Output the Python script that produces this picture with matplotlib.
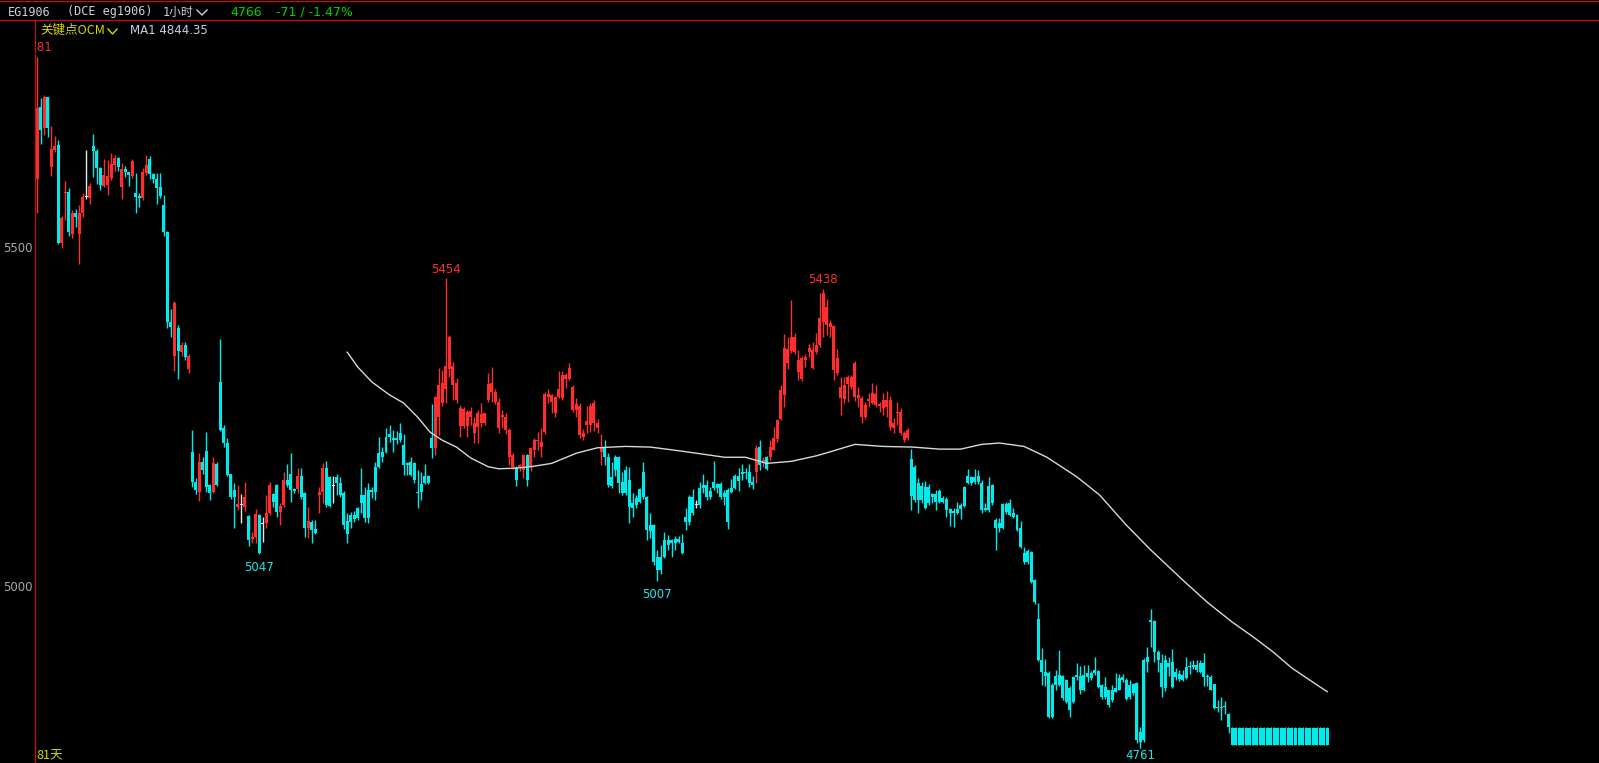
import numpy as np
import matplotlib
matplotlib.use("Agg")
import matplotlib.pyplot as plt
from matplotlib.lines import Line2D

# EG1906 1小时 K线, 数值从截图上读出
opens = [
    5600, 5707, 5675, 5721, 5618, 5643, 5650, 5506, 5580, 5582,
    5520, 5550, 5520, 5550, 5574, 5572, 5649, 5642, 5617, 5590,
    5591, 5602, 5621, 5631, 5588, 5615, 5611, 5605, 5580, 5575,
    5573, 5609, 5630, 5608, 5600, 5588, 5562, 5522, 5390, 5340,
    5380, 5345, 5355, 5320, 5198, 5153, 5139, 5183, 5199, 5149,
    5139, 5180, 5301, 5233, 5211, 5165, 5141, 5117, 5119, 5117,
    5103, 5070, 5072, 5105, 5092, 5093, 5108, 5136, 5149, 5109,
    5119, 5157, 5165, 5143, 5143, 5162, 5137, 5085, 5094, 5084,
    5134, 5139, 5174, 5161, 5148, 5161, 5152, 5137, 5096, 5105,
    5105, 5115, 5134, 5134, 5141, 5141, 5176, 5196, 5198, 5220,
    5224, 5218, 5218, 5226, 5208, 5181, 5183, 5181, 5139, 5150,
    5162, 5162, 5219, 5204, 5250, 5270, 5290, 5320, 5297, 5274,
    5236, 5236, 5236, 5250, 5226, 5234, 5240, 5240, 5274, 5286,
    5271, 5233, 5249, 5230, 5190, 5175, 5174, 5175, 5171, 5193,
    5175, 5200, 5214, 5205, 5227, 5279, 5271, 5255, 5279, 5277,
    5305, 5305, 5260, 5260, 5223, 5220, 5237, 5237, 5240, 5233,
    5198, 5205, 5190, 5161, 5190, 5190, 5153, 5171, 5156, 5122,
    5130, 5143, 5168, 5131, 5090, 5090, 5043, 5043, 5068, 5068,
    5068, 5069, 5070, 5063, 5102, 5131, 5131, 5119, 5144, 5149,
    5149, 5140, 5153, 5150, 5150, 5137, 5142, 5144, 5162, 5162,
    5168, 5168, 5168, 5153, 5168, 5205, 5181, 5190, 5190, 5201,
    5217, 5246, 5282, 5329, 5347, 5345, 5316, 5305, 5333, 5345,
    5322, 5345, 5355, 5389, 5385, 5382, 5318, 5315, 5277, 5276,
    5298, 5294, 5279, 5277, 5249, 5249, 5273, 5270, 5267, 5265,
    5263, 5264, 5235, 5233, 5255, 5226, 5215, 5218, 5187, 5176,
    5152, 5147, 5146, 5146, 5136, 5136, 5140, 5130, 5128, 5114,
    5110, 5114, 5120, 5146, 5162, 5161, 5161, 5162, 5152, 5115,
    5147, 5149, 5097, 5093, 5121, 5121, 5122, 5108, 5105, 5086,
    5049, 5052, 5050, 5009, 4951, 4891, 4873, 4872, 4854, 4867,
    4869, 4867, 4861, 4850, 4866, 4869, 4867, 4869, 4872, 4872,
    4876, 4875, 4854, 4851, 4846, 4846, 4849, 4864, 4866, 4861,
    4854, 4855, 4857, 4785, 4891, 4896, 4950, 4948, 4903, 4886,
    4891, 4886, 4888, 4873, 4870, 4869, 4880, 4882, 4883, 4883,
    4886, 4886, 4867, 4866, 4855, 4822, 4822, 4823, 4811,
] + [4791] * 28

highs = [
    5781, 5720, 5724, 5721, 5678, 5664, 5658, 5546, 5597, 5587,
    5554, 5556, 5562, 5580, 5643, 5594, 5667, 5645, 5618, 5630,
    5628, 5639, 5636, 5633, 5624, 5619, 5611, 5630, 5609, 5580,
    5616, 5636, 5634, 5609, 5609, 5609, 5577, 5524, 5408, 5421,
    5385, 5360, 5360, 5342, 5230, 5160, 5196, 5190, 5227, 5151,
    5190, 5183, 5364, 5238, 5219, 5165, 5152, 5149, 5136, 5153,
    5105, 5080, 5114, 5107, 5102, 5134, 5153, 5137, 5151, 5122,
    5168, 5180, 5196, 5145, 5174, 5174, 5139, 5117, 5097, 5097,
    5146, 5181, 5184, 5163, 5162, 5165, 5161, 5140, 5108, 5109,
    5111, 5117, 5174, 5146, 5152, 5146, 5183, 5220, 5205, 5233,
    5237, 5230, 5228, 5240, 5224, 5183, 5190, 5183, 5171, 5168,
    5180, 5164, 5269, 5280, 5322, 5318, 5454, 5370, 5330, 5307,
    5267, 5264, 5260, 5264, 5249, 5260, 5270, 5256, 5314, 5323,
    5290, 5278, 5260, 5256, 5233, 5196, 5177, 5180, 5195, 5195,
    5205, 5218, 5227, 5233, 5286, 5290, 5283, 5280, 5317, 5317,
    5314, 5329, 5297, 5278, 5270, 5231, 5265, 5270, 5275, 5247,
    5224, 5216, 5196, 5183, 5193, 5192, 5168, 5177, 5175, 5137,
    5134, 5144, 5183, 5133, 5108, 5092, 5053, 5061, 5080, 5075,
    5070, 5074, 5074, 5077, 5115, 5134, 5143, 5127, 5153, 5166,
    5157, 5146, 5184, 5152, 5153, 5142, 5144, 5158, 5166, 5174,
    5180, 5174, 5180, 5162, 5208, 5215, 5190, 5192, 5215, 5234,
    5247, 5296, 5372, 5367, 5422, 5374, 5348, 5340, 5343, 5357,
    5360, 5373, 5432, 5438, 5423, 5392, 5385, 5349, 5308, 5308,
    5311, 5311, 5332, 5293, 5281, 5272, 5285, 5299, 5296, 5272,
    5285, 5288, 5280, 5248, 5272, 5262, 5228, 5233, 5202, 5178,
    5159, 5153, 5155, 5150, 5137, 5141, 5143, 5133, 5131, 5115,
    5115, 5124, 5123, 5148, 5173, 5163, 5173, 5171, 5157, 5123,
    5161, 5151, 5100, 5100, 5123, 5124, 5128, 5115, 5107, 5096,
    5058, 5054, 5052, 5011, 4975, 4909, 4892, 4874, 4857, 4876,
    4905, 4869, 4863, 4852, 4868, 4886, 4882, 4884, 4884, 4874,
    4895, 4876, 4856, 4866, 4847, 4854, 4872, 4871, 4871, 4864,
    4861, 4857, 4859, 4792, 4894, 4910, 4966, 4950, 4906, 4900,
    4898, 4896, 4907, 4879, 4876, 4876, 4895, 4889, 4891, 4891,
    4891, 4901, 4870, 4869, 4856, 4832, 4836, 4830, 4813,
] + [4792] * 28

lows = [
    5550, 5652, 5665, 5663, 5605, 5641, 5504, 5498, 5540, 5516,
    5513, 5530, 5475, 5544, 5571, 5563, 5603, 5593, 5584, 5588,
    5577, 5599, 5612, 5612, 5571, 5603, 5590, 5602, 5550, 5559,
    5569, 5606, 5600, 5594, 5563, 5573, 5516, 5380, 5367, 5317,
    5305, 5340, 5334, 5314, 5146, 5136, 5125, 5165, 5139, 5127,
    5137, 5147, 5228, 5205, 5162, 5129, 5085, 5112, 5093, 5110,
    5059, 5063, 5063, 5047, 5065, 5085, 5105, 5117, 5102, 5090,
    5117, 5146, 5124, 5137, 5137, 5128, 5072, 5071, 5063, 5077,
    5108, 5122, 5117, 5116, 5122, 5134, 5132, 5084, 5063, 5086,
    5094, 5098, 5108, 5095, 5093, 5130, 5127, 5174, 5183, 5196,
    5212, 5198, 5210, 5213, 5164, 5164, 5162, 5152, 5115, 5127,
    5150, 5150, 5189, 5193, 5223, 5266, 5270, 5308, 5274, 5270,
    5220, 5233, 5220, 5237, 5211, 5211, 5234, 5238, 5271, 5271,
    5268, 5226, 5233, 5225, 5178, 5172, 5148, 5170, 5160, 5148,
    5170, 5190, 5200, 5190, 5224, 5270, 5255, 5249, 5277, 5274,
    5292, 5304, 5257, 5250, 5219, 5215, 5226, 5227, 5228, 5226,
    5178, 5178, 5146, 5145, 5163, 5137, 5134, 5134, 5093, 5102,
    5115, 5122, 5129, 5068, 5071, 5031, 5007, 5018, 5041, 5053,
    5043, 5053, 5063, 5047, 5083, 5090, 5105, 5115, 5115, 5137,
    5127, 5128, 5141, 5137, 5128, 5119, 5084, 5137, 5143, 5140,
    5156, 5158, 5146, 5143, 5152, 5171, 5176, 5171, 5186, 5200,
    5212, 5245, 5264, 5320, 5344, 5343, 5304, 5302, 5323, 5338,
    5320, 5343, 5352, 5367, 5370, 5367, 5304, 5312, 5252, 5270,
    5272, 5290, 5273, 5264, 5240, 5247, 5264, 5268, 5264, 5257,
    5253, 5250, 5230, 5226, 5237, 5223, 5212, 5215, 5112, 5124,
    5108, 5122, 5113, 5119, 5122, 5112, 5122, 5122, 5102, 5089,
    5087, 5106, 5099, 5116, 5150, 5149, 5151, 5150, 5108, 5111,
    5109, 5120, 5053, 5080, 5084, 5107, 5103, 5100, 5081, 5056,
    5032, 5032, 5004, 4974, 4889, 4854, 4852, 4805, 4805, 4847,
    4852, 4832, 4827, 4807, 4827, 4861, 4841, 4845, 4859, 4861,
    4869, 4849, 4834, 4834, 4822, 4829, 4843, 4846, 4859, 4832,
    4834, 4840, 4768, 4761, 4770, 4873, 4910, 4888, 4873, 4836,
    4845, 4867, 4849, 4861, 4860, 4860, 4863, 4871, 4877, 4873,
    4872, 4853, 4853, 4846, 4818, 4814, 4802, 4812, 4783,
] + [4766] * 28

closes = [
    5705, 5673, 5721, 5675, 5645, 5649, 5506, 5543, 5582, 5522,
    5550, 5544, 5550, 5574, 5574, 5590, 5642, 5617, 5591, 5606,
    5605, 5622, 5631, 5618, 5615, 5611, 5606, 5627, 5574, 5573,
    5611, 5621, 5608, 5600, 5587, 5575, 5522, 5389, 5382, 5417,
    5347, 5355, 5338, 5340, 5153, 5141, 5183, 5171, 5146, 5137,
    5181, 5149, 5230, 5211, 5164, 5131, 5131, 5121, 5119, 5131,
    5068, 5072, 5106, 5049, 5092, 5108, 5149, 5124, 5109, 5118,
    5156, 5149, 5142, 5140, 5162, 5131, 5085, 5096, 5083, 5078,
    5139, 5174, 5119, 5118, 5148, 5152, 5134, 5090, 5077, 5095,
    5099, 5100, 5122, 5100, 5100, 5139, 5139, 5176, 5190, 5198,
    5220, 5215, 5216, 5215, 5178, 5178, 5164, 5156, 5137, 5139,
    5152, 5152, 5204, 5279, 5297, 5299, 5325, 5367, 5324, 5300,
    5263, 5261, 5257, 5258, 5240, 5255, 5254, 5255, 5298, 5300,
    5286, 5271, 5252, 5250, 5230, 5193, 5156, 5178, 5193, 5156,
    5203, 5215, 5216, 5212, 5284, 5284, 5282, 5279, 5290, 5312,
    5312, 5322, 5294, 5268, 5266, 5226, 5243, 5266, 5270, 5240,
    5205, 5190, 5149, 5147, 5171, 5152, 5137, 5137, 5117, 5115,
    5119, 5124, 5131, 5083, 5081, 5035, 5024, 5024, 5043, 5061,
    5063, 5063, 5065, 5049, 5094, 5094, 5108, 5119, 5119, 5145,
    5131, 5131, 5144, 5144, 5131, 5131, 5094, 5139, 5144, 5155,
    5166, 5167, 5152, 5149, 5204, 5178, 5186, 5172, 5205, 5218,
    5245, 5289, 5351, 5350, 5367, 5367, 5333, 5336, 5338, 5351,
    5348, 5355, 5395, 5432, 5411, 5388, 5383, 5336, 5294, 5297,
    5308, 5308, 5329, 5282, 5277, 5267, 5276, 5285, 5284, 5269,
    5274, 5274, 5274, 5240, 5257, 5257, 5226, 5230, 5133, 5127,
    5127, 5127, 5115, 5122, 5131, 5124, 5124, 5124, 5112, 5108,
    5108, 5108, 5113, 5118, 5152, 5152, 5153, 5153, 5112, 5112,
    5112, 5122, 5086, 5086, 5086, 5109, 5105, 5102, 5083, 5058,
    5035, 5035, 5006, 4976, 4891, 4873, 4867, 4807, 4807, 4854,
    4854, 4835, 4829, 4817, 4829, 4866, 4847, 4847, 4866, 4864,
    4872, 4851, 4836, 4836, 4824, 4832, 4844, 4847, 4861, 4834,
    4836, 4842, 4773, 4770, 4773, 4888, 4947, 4903, 4891, 4851,
    4850, 4880, 4851, 4866, 4863, 4861, 4864, 4880, 4880, 4876,
    4873, 4866, 4866, 4847, 4820, 4820, 4820, 4821, 4792,
] + [4766] * 28

# MA1 线 (在图上取点)
ma_idx = [88, 91, 95, 100, 104, 108, 111.5, 115, 119, 123, 128, 131, 136, 140,
          146, 153, 159, 167, 174, 180, 187, 195, 201, 207, 214, 221, 225, 232,
          240, 248.5, 256, 262, 268, 273, 280, 286.5, 295, 301.5, 309, 316,
          325, 332, 339, 345, 350.6, 356, 364, 366]
ma_vals = [5345, 5323, 5301, 5282, 5270, 5249, 5227, 5215, 5205, 5189, 5176,
           5173, 5174, 5176, 5181, 5196, 5204, 5206, 5205, 5201, 5196, 5190,
           5190, 5181, 5184, 5192, 5198, 5209, 5206, 5205, 5202, 5202, 5209,
           5211, 5206, 5190, 5161, 5134, 5090, 5053, 5009, 4976, 4947, 4925,
           4903, 4879, 4851, 4844.35]

y_ticks = [5000, 5500]

W, H = 1599, 763
RED = "#ff2e2e"
CYAN = "#00ecec"
WHITE = "#e6e6e6"
FRAME = "#c01010"
CJK = ["Noto Sans CJK SC", "DejaVu Sans"]


def fx(x):
    return x / W


def fy(y):
    return 1 - y / H


fig = plt.figure(figsize=(W / 100, H / 100), dpi=100, facecolor="black")

ax = fig.add_axes([fx(35), 0, 1 - fx(35), 1 - 20 / H])
ax.set_facecolor("black")
ax.set_xlim(-0.57, 443.1)
ax.set_ylim(4739, 5835)

o = np.array(opens, float)
h = np.array(highs, float)
l = np.array(lows, float)
c = np.array(closes, float)
idx = np.arange(len(c))

cols = np.where(c > o, RED, np.where(c < o, CYAN, WHITE))
ax.vlines(idx, l, h, colors=cols, linewidth=1.0)
body_lo = np.minimum(o, c)
body_h = np.maximum(np.abs(c - o), 1.6)
ax.bar(idx, body_h, bottom=body_lo, width=0.85, color=cols, linewidth=0)

ax.plot(ma_idx, ma_vals, color="#d8d8d8", lw=1.0)

# 高低点标注
def mark(i, val, col, top, dy):
    ax.annotate(f"{val:.0f}", (i, val), xytext=(0, dy), textcoords="offset points",
                ha="center", va="bottom" if top else "top", color=col,
                fontsize=8.5, annotation_clip=False, clip_on=top)


i_top0 = int(np.argmax(h))
mark(i_top0, h[i_top0], RED, True, 2)
for a, b in [(100, 200), (200, 260)]:
    k = a + int(np.argmax(h[a:b]))
    mark(k, h[k], RED, True, 2)
for a, b, dy in [(40, 120, -5), (150, 200, -5), (280, 340, -0.5)]:
    k = a + int(np.argmin(l[a:b]))
    mark(k, l[k], "#22e4e4", False, dy)

ax.set_yticks(y_ticks)
ax.set_yticklabels([str(t) for t in y_ticks])
ax.tick_params(axis="y", length=0, pad=2, labelcolor="#a8a8a8", labelsize=8.5)
ax.set_xticks([])
for s in ["top", "right", "bottom"]:
    ax.spines[s].set_visible(False)
ax.spines["left"].set_color(FRAME)
ax.spines["left"].set_linewidth(0.9)

# 顶部标题栏
fig.add_artist(Line2D([0, 1], [fy(0.5), fy(0.5)], color=FRAME, lw=0.9))
fig.add_artist(Line2D([0, 1], [fy(19.5), fy(19.5)], color=FRAME, lw=0.9))

fig.text(fx(8), fy(12), "EG1906", color="#d0d0d0", fontsize=8.5,
         family=["DejaVu Sans Mono"], va="center")
fig.text(fx(67), fy(12), "(DCE eg1906)", color="#d0d0d0", fontsize=8.5,
         family=["DejaVu Sans Mono"], va="center")
fig.text(fx(163), fy(12), "1小时", color="#d0d0d0", fontsize=8.5,
         family=["DejaVu Sans Mono", "Noto Sans CJK SC"], va="center")
fig.add_artist(Line2D([fx(197), fx(202), fx(207)], [fy(10), fy(15), fy(10)],
                      color="#d0d0d0", lw=1))
fig.text(fx(230), fy(12), "4766", color="#00d200", fontsize=9, va="center")
fig.text(fx(276), fy(12), "-71 / -1.47%", color="#00d200", fontsize=9, va="center")

fig.text(fx(40), fy(30), "关键点OCM", color="#d8d800", fontsize=9, family=CJK, va="center")
fig.add_artist(Line2D([fx(108), fx(112.5), fx(117)], [fy(29), fy(34), fy(29)],
                      color="#d8d800", lw=1))
fig.text(fx(130), fy(30), f"MA1 {ma_vals[-1]:.2f}", color="#c8d2e6", fontsize=8.5,
         va="center")

fig.text(fx(36), fy(762), "81天", color="#d8d800", fontsize=9, family=CJK, va="bottom")

fig.savefig("out.png", dpi=100, facecolor="black")
